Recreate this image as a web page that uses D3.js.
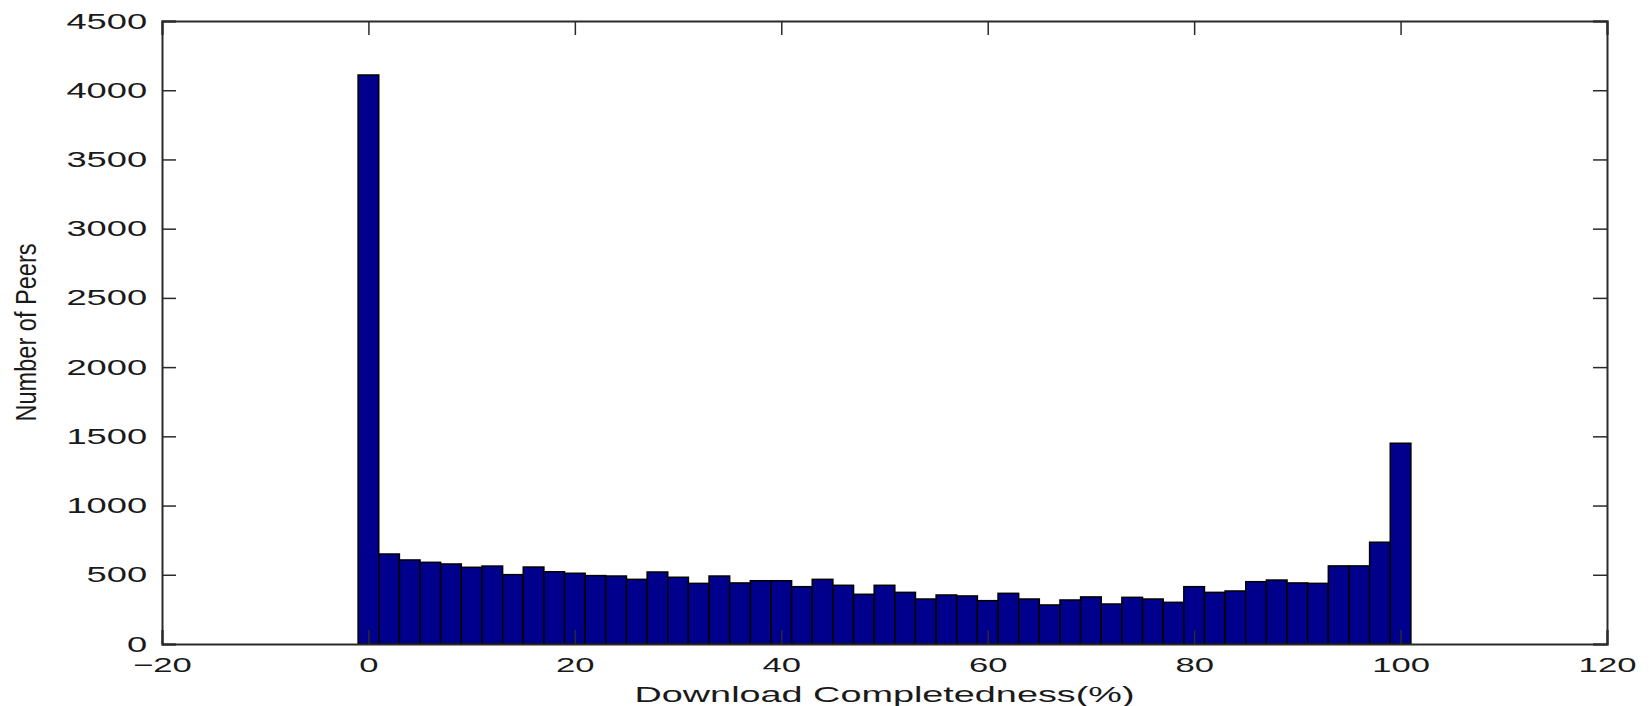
<!DOCTYPE html>
<html>
<head>
<meta charset="utf-8">
<script src="https://cdn.jsdelivr.net/npm/d3@7"></script>
<style>
  body { margin: 0; background: #fff; }
  text { font-family: "Liberation Sans", Arial, sans-serif; fill: #1a1a1a; }
</style>
</head>
<body>
<div id="chart"></div>
<script>
// bin centres (percent) and peer counts
const binCenters = [0, 2, 4, 6, 8, 10, 12, 14, 16, 18, 20, 22, 24, 26, 28, 30, 32, 34, 36, 38,
  40, 42, 44, 46, 48, 50, 52, 54, 56, 58, 60, 62, 64, 66, 68, 70, 72, 74, 76, 78,
  80, 82, 84, 86, 88, 90, 92, 94, 96, 98, 100];
const peerCounts = [4110, 650, 607, 590, 578, 554, 563, 501, 556, 522, 511, 494, 491, 467, 520, 482, 438, 491, 441, 457,
  457, 414, 467, 424, 359, 424, 373, 325, 354, 347, 313, 366, 325, 282, 318, 340, 289, 337, 325, 301,
  414, 373, 383, 450, 462, 441, 438, 564, 564, 735, 1450];
const xTicks = [-20, 0, 20, 40, 60, 80, 100, 120];
const yTicks = [0, 500, 1000, 1500, 2000, 2500, 3000, 3500, 4000, 4500];
const binWidth = 2;

const width = 1649;
const height = 706;
const margin = { top: 21, right: 42, bottom: 62, left: 162 };

const svg = d3.select("#chart")
  .append("svg")
  .attr("width", width)
  .attr("height", height);

const x = d3.scaleLinear().domain([-20, 120]).range([margin.left, width - margin.right]);
const y = d3.scaleLinear().domain([0, 4500]).range([height - margin.bottom, margin.top]);

//bars
svg.append("g")
  .selectAll("rect")
  .data(binCenters)
  .enter()
  .append("rect")
  .attr("x", (d) => x(d - binWidth / 2))
  .attr("width", (d) => x(d + binWidth / 2) - x(d - binWidth / 2))
  .attr("y", (d, i) => y(peerCounts[i]))
  .attr("height", (d, i) => y(0) - y(peerCounts[i]))
  .attr("fill", "#00008c")
  .attr("stroke", "#000")
  .attr("stroke-width", 1.5);

const stretch = 1.65;
const tickLen = 14;

//bottom axis
const xAxis = svg.append("g")
  .attr("transform", "translate(0," + y(0) + ")")
  .call(d3.axisBottom(x).tickValues(xTicks).tickSize(-tickLen).tickPadding(0).tickFormat((d) => d < 0 ? "\u2212" + Math.abs(d) : d));
xAxis.selectAll("text")
  .attr("y", 28)
  .attr("dy", null)
  .style("font-size", "21px")
  .attr("transform", "scale(" + stretch + ",1)");

//top axis
svg.append("g")
  .attr("transform", "translate(0," + y(4500) + ")")
  .call(d3.axisTop(x).tickValues(xTicks).tickSize(-tickLen).tickFormat(""));

//left axis
const yAxis = svg.append("g")
  .attr("transform", "translate(" + x(-20) + ",0)")
  .call(d3.axisLeft(y).tickValues(yTicks).tickSize(-tickLen).tickPadding(9).tickFormat(d3.format("d")));
yAxis.selectAll("text")
  .attr("x", -9)
  .style("font-size", "22px")
  .attr("transform", "scale(" + stretch + ",1)");

//right axis
svg.append("g")
  .attr("transform", "translate(" + x(120) + ",0)")
  .call(d3.axisRight(y).tickValues(yTicks).tickSize(-tickLen).tickFormat(""));

svg.selectAll(".domain").attr("stroke", "#2a2a2a").attr("stroke-width", 2);
svg.selectAll(".tick line").attr("stroke", "#2a2a2a").attr("stroke-width", 1.5);
svg.selectAll(".tick text").attr("fill", "#1a1a1a").style("font-family", "'Liberation Sans', Arial, sans-serif");

//axis titles
svg.append("text")
  .attr("x", (x(-20) + x(120)) / 2)
  .attr("y", 702)
  .attr("text-anchor", "middle")
  .style("font-size", "22px")
  .attr("textLength", 500)
  .attr("lengthAdjust", "spacingAndGlyphs")
  .text("Download Completedness(%)");

svg.append("text")
  .attr("transform", "translate(36," + (y(0) + y(4500)) / 2 + ") rotate(-90)")
  .attr("text-anchor", "middle")
  .style("font-size", "29px")
  .attr("textLength", 178)
  .attr("lengthAdjust", "spacingAndGlyphs")
  .text("Number of Peers");
</script>
</body>
</html>
